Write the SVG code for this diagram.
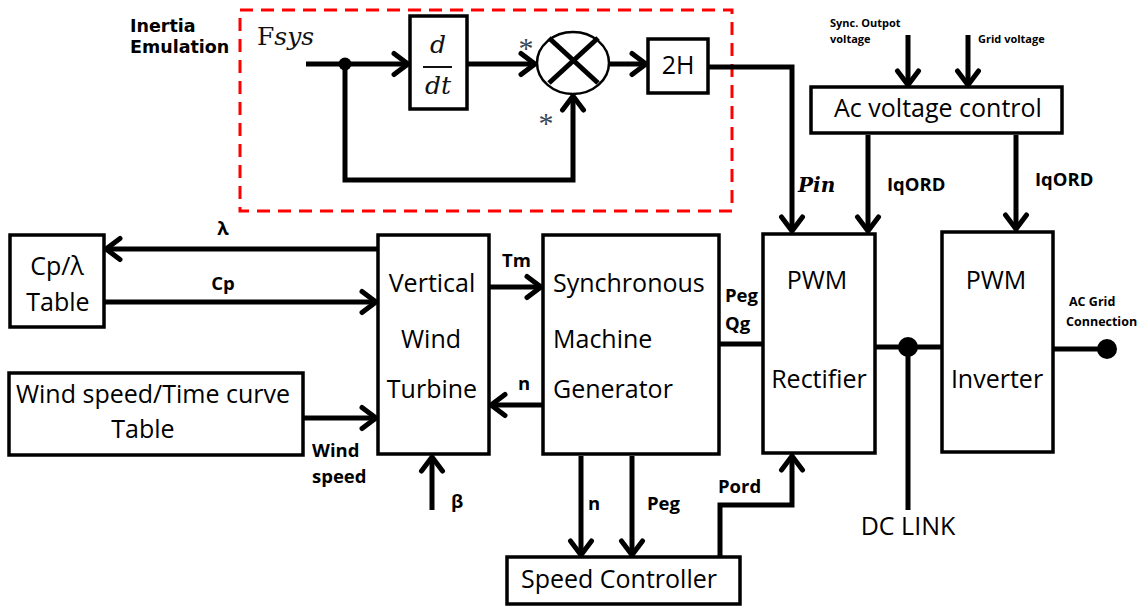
<svg xmlns="http://www.w3.org/2000/svg" width="1146" height="606" viewBox="0 0 1146 606">
<style>
.box{fill:#fff;stroke:#000;stroke-width:3.5}
.w{fill:none;stroke:#000;stroke-width:5;stroke-linejoin:miter}
.arr{marker-end:url(#ah)}
.t{font-family:"Open Sans","Liberation Sans",sans-serif;font-size:25px;fill:#000}
.b{font-family:"Open Sans","Liberation Sans",sans-serif;font-weight:bold;font-size:18.5px;fill:#000}
.s{font-family:"Open Sans","Liberation Sans",sans-serif;font-weight:bold;font-size:11px;fill:#000}
.m{font-family:"DejaVu Serif","Liberation Serif",serif;font-style:italic;fill:#111}
</style>
<defs>
<marker id="ah" markerUnits="userSpaceOnUse" viewBox="-20 -15 24 30" refX="0" refY="0" markerWidth="24" markerHeight="30" orient="auto" overflow="visible">
<path d="M-14,-10.5 L0,0 L-14,10.5" fill="none" stroke="#000" stroke-width="5" stroke-linecap="round" stroke-linejoin="round"/>
</marker>
</defs>
<rect width="1146" height="606" fill="#fff"/>

<g id="inertia-emulation">
<rect x="240" y="10" width="492" height="201" fill="none" stroke="#f00" stroke-width="3" stroke-dasharray="13 8"/>
<text x="130" y="32" font-family="DejaVu Sans,sans-serif" font-weight="bold" font-size="17.5">Inertia</text>
<text x="130" y="53" font-family="DejaVu Sans,sans-serif" font-weight="bold" font-size="17.5">Emulation</text>
<text x="257" y="45" font-family="DejaVu Serif,serif" font-size="25" fill="#111">F<tspan font-style="italic">sys</tspan></text>
</g>

<g id="ddt">
<rect class="box" x="410" y="16" width="57" height="93"/>
<text class="m" x="438" y="53" font-size="25" text-anchor="middle">d</text>
<line x1="423" y1="67" x2="452" y2="67" stroke="#111" stroke-width="2"/>
<text class="m" x="438" y="94" font-size="25" text-anchor="middle">dt</text>
</g>

<g id="multiplier">
<ellipse cx="573" cy="63" rx="36" ry="31" fill="#fff" stroke="#000" stroke-width="2.5"/>
<line x1="549" y1="38" x2="598" y2="83" stroke="#000" stroke-width="5"/>
<line x1="549" y1="83" x2="598" y2="38" stroke="#000" stroke-width="5"/>
<text x="526" y="58" font-family="Liberation Serif,serif" font-size="30" fill="#3a4656" text-anchor="middle">*</text>
<text x="546" y="133" font-family="Liberation Serif,serif" font-size="30" fill="#3a4656" text-anchor="middle">*</text>
</g>

<g id="gain-2h">
<rect class="box" x="648" y="39" width="60" height="54"/>
<text class="t" x="678" y="74" font-size="23" text-anchor="middle">2H</text>
</g>

<g id="ac-voltage-control">
<rect class="box" x="811" y="87" width="251" height="46"/>
<text class="t" x="938" y="117" font-size="24" text-anchor="middle">Ac voltage control</text>
</g>

<g id="cp-table">
<rect class="box" x="10" y="235" width="94" height="92"/>
<text class="t" x="57" y="275" text-anchor="middle">Cp/λ</text>
<text class="t" x="58" y="311" text-anchor="middle">Table</text>
</g>

<g id="wind-table">
<rect class="box" x="9" y="373" width="294" height="82"/>
<text class="t" x="153" y="403" text-anchor="middle">Wind speed/Time curve</text>
<text class="t" x="143" y="438" text-anchor="middle">Table</text>
</g>

<g id="turbine">
<rect class="box" x="378" y="235" width="111" height="219"/>
<text class="t" x="432" y="292" text-anchor="middle">Vertical</text>
<text class="t" x="431" y="348" text-anchor="middle">Wind</text>
<text class="t" x="432" y="398" text-anchor="middle">Turbine</text>
</g>

<g id="generator">
<rect class="box" x="543" y="235" width="176" height="219"/>
<text class="t" x="553" y="292">Synchronous</text>
<text class="t" x="553" y="348">Machine</text>
<text class="t" x="553" y="398">Generator</text>
</g>

<g id="rectifier">
<rect class="box" x="763" y="234" width="112" height="219"/>
<text class="t" x="817" y="289" text-anchor="middle">PWM</text>
<text class="t" x="819" y="388" text-anchor="middle">Rectifier</text>
</g>

<g id="inverter">
<rect class="box" x="942" y="232" width="111" height="220"/>
<text class="t" x="996" y="289" text-anchor="middle">PWM</text>
<text class="t" x="997" y="388" text-anchor="middle">Inverter</text>
</g>

<g id="speed-controller">
<rect class="box" x="507" y="557" width="233" height="47"/>
<text class="t" x="619" y="588" text-anchor="middle">Speed Controller</text>
</g>

<g id="connectors">
<path class="w arr" d="M306,64 H408"/>
<circle cx="345" cy="64" r="6.5" fill="#000"/>
<path class="w arr" d="M345,64 V180 H573 V96"/>
<path class="w arr" d="M467,64 H535"/>
<path class="w arr" d="M609,64 H646"/>
<path class="w arr" d="M708,67 H792 V231"/>
<path class="w arr" d="M908,35 V85"/>
<path class="w arr" d="M968,35 V85"/>
<path class="w arr" d="M868,135 V231"/>
<path class="w arr" d="M1016,135 V229"/>
<path class="w arr" d="M378,249 H106"/>
<path class="w arr" d="M104,302 H376"/>
<path class="w arr" d="M303,418 H376"/>
<path class="w arr" d="M432,510 V457"/>
<path class="w arr" d="M489,287 H541"/>
<path class="w arr" d="M543,405 H491"/>
<path class="w" d="M719,344 H763"/>
<path class="w arr" d="M581,456 V555"/>
<path class="w arr" d="M632,456 V555"/>
<path class="w arr" d="M720,557 V505 H792 V456"/>
<path class="w" d="M875,347 H942"/>
<circle cx="908" cy="347" r="10" fill="#000"/>
<path class="w" d="M908,347 V510"/>
<path class="w" d="M1053,349 H1107"/>
<circle cx="1107" cy="349" r="10" fill="#000"/>
</g>

<g id="labels">
<text x="798" y="192" font-family="DejaVu Serif,serif" font-style="italic" font-weight="bold" font-size="20">Pin</text>
<text class="s" x="830" y="27">Sync.  Outpot</text>
<text class="s" x="830" y="43">voltage</text>
<text class="s" x="978" y="43">Grid voltage</text>
<text class="b" x="887" y="191">IqORD</text>
<text class="b" x="1035" y="186">IqORD</text>
<text class="b" x="223" y="235" text-anchor="middle">λ</text>
<text class="b" x="223" y="290" text-anchor="middle">Cp</text>
<text class="b" x="312" y="457">Wind</text>
<text class="b" x="312" y="483">speed</text>
<text class="b" x="451" y="508">β</text>
<text class="b" x="502" y="267">Tm</text>
<text class="b" x="518" y="390">n</text>
<text class="b" x="725" y="302">Peg</text>
<text class="b" x="725" y="330">Qg</text>
<text class="b" x="588" y="510">n</text>
<text class="b" x="647" y="510">Peg</text>
<text class="b" x="718" y="493">Pord</text>
<text class="t" x="908" y="535" font-size="24" text-anchor="middle">DC LINK</text>
<text x="1069" y="306" font-family="Open Sans,Liberation Sans,sans-serif" font-weight="bold" font-size="12.5">AC Grid</text>
<text x="1066" y="326" font-family="Open Sans,Liberation Sans,sans-serif" font-weight="bold" font-size="12.5">Connection</text>
</g>
</svg>
